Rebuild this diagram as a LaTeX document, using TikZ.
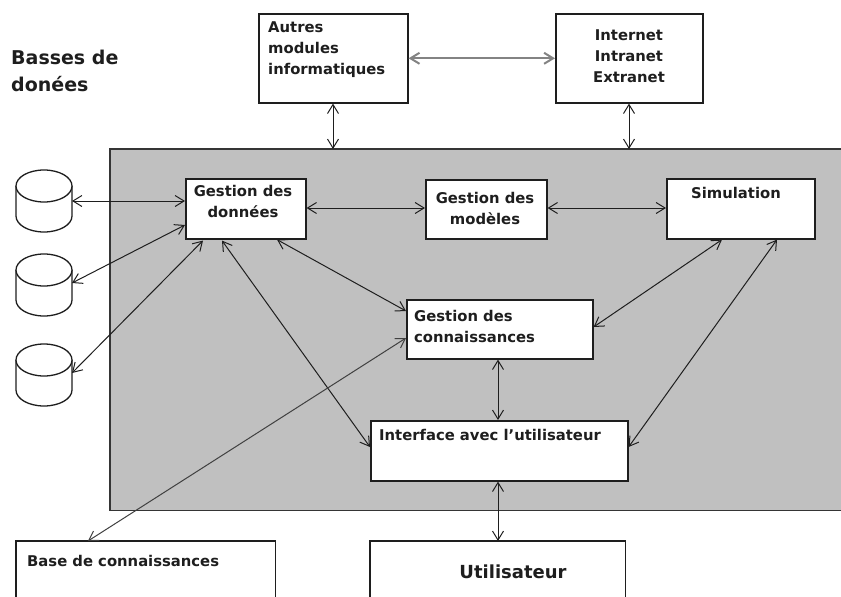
\documentclass[tikz,border=0pt]{standalone}
\usepackage{fontspec}
\setmainfont{DejaVu Sans}
\usetikzlibrary{arrows.meta,calc}
\definecolor{panel}{HTML}{C0C0C0}
\definecolor{ink}{HTML}{1E1E1E}
\tikzset{
  boxn/.style={draw=ink,line width=1.6pt,fill=white,inner sep=0pt,anchor=north west},
  openbox/.style={fill=white,inner sep=0pt,anchor=north west},
  txt/.style={font=\bfseries\fontsize{14.8}{21}\selectfont,text=ink,inner sep=0pt,align=left},
  link/.style={draw=ink,line width=1pt,{Straight Barb[length=9pt,width=11pt]}-{Straight Barb[length=9pt,width=11pt]}},
  db/.style={inner sep=0pt,minimum width=56pt,minimum height=62pt},
  dbline/.style={draw=ink,line width=1.3pt,fill=white}
}
\newcommand{\bx}[6]{\node[#6,minimum width=#4pt,minimum height=#5pt] (#1) at (#2,#3) {};}
\newcommand{\dbshape}[1]{\begin{scope}[shift={(#1.center)}]
\draw[dbline] (-28,-15) -- (-28,15) arc[start angle=180,end angle=0,x radius=28,y radius=16] -- (28,-15);
\draw[dbline] (0,-15) ellipse[x radius=28,y radius=16];
\end{scope}}
\begin{document}
\begin{tikzpicture}[x=1pt,y=-1pt]
\useasboundingbox (0,0) rectangle (841,597);
% main panel
\node[fill=panel,inner sep=0pt,anchor=north west,minimum width=731pt,minimum height=361pt] (panel) at (110,149) {};
\draw[draw=ink!90,line width=1.5pt] (panel.north east) -- (panel.north west) -- (panel.south west) -- (panel.south east);
% boxes
\bx{autres}{258}{13}{149}{89}{boxn}
\bx{inet}{555}{13}{147}{89}{boxn}
\bx{dg}{185}{178}{120}{60}{boxn}
\bx{dm}{425}{179}{121}{59}{boxn}
\bx{sim}{666}{178}{148}{60}{boxn}
\bx{con}{406}{299}{186}{59}{boxn}
\bx{ui}{370}{420}{257}{60}{boxn}
\bx{base}{16}{541}{259}{56}{openbox}
\bx{user}{370}{541}{255}{56}{openbox}
\draw[draw=ink,line width=1.6pt] (base.south west) -- (base.north west) -- (base.north east) -- (base.south east);
\draw[draw=ink,line width=1.6pt] (user.south west) -- (user.north west) -- (user.north east) -- (user.south east);
% cylinders
\node[db] (c1) at (44,201) {};
\node[db] (c2) at (44,285) {};
\node[db] (c3) at (44,375) {};
\dbshape{c1}\dbshape{c2}\dbshape{c3}
% texts
\node[txt,anchor=west,font=\bfseries\fontsize{19}{27}\selectfont] (title) at (11,71) {Basses de\\donées};
\node[txt,anchor=west] (t1) at (268,50) {Autres\\modules\\informatiques};
\node[txt,anchor=center,align=center] (t2) at (629,56) {Internet\\Intranet\\Extranet};
\node[txt,anchor=center,align=center] (t3) at (243,201) {Gestion des\\données};
\node[txt,anchor=center,align=center] (t4) at (485,208) {Gestion des\\modèles};
\node[txt,anchor=center] (t5) at (736,193) {Simulation};
\node[txt,anchor=west] (t6) at (414,326) {Gestion des\\connaissances};
\node[txt,anchor=center] (t7) at (490,435) {Interface avec l'utilisateur};
\node[txt,anchor=west] (t8) at (27,561) {Base de connaissances};
\node[txt,anchor=center,font=\bfseries\fontsize{18}{20}\selectfont] (t9) at (513,572) {Utilisateur};
% connectors
\draw[link,draw=ink!55,line width=2pt] ($(autres.east)$) -- ($(inet.west)$);
\draw[link] ($(autres.south west)+(75,0)$) -- ($(panel.north west)+(223,0)$);
\draw[link] ($(inet.south west)+(74,0)$) -- ($(panel.north west)+(519,0)$);
\draw[link] ($(c1.center)+(28,0)$) -- ($(dg.north west)+(0,23)$);
\draw[link] ($(c2.center)+(28,-2)$) -- ($(dg.north west)+(0,47)$);
\draw[link] ($(c3.center)+(28,-2)$) -- ($(dg.south west)+(18,1)$);
\draw[link] ($(dg.north east)+(0,30)$) -- ($(dm.north west)+(0,29)$);
\draw[link] ($(dm.north east)+(0,29)$) -- ($(sim.north west)+(0,30)$);
\draw[link] ($(dg.south west)+(92,0)$) -- ($(con.north west)+(0,12)$);
\draw[link] ($(dg.south west)+(37,1)$) -- ($(ui.north west)+(0,27)$);
\draw[link] ($(sim.south west)+(56,0)$) -- ($(con.north east)+(0,28)$);
\draw[link] ($(sim.south west)+(111,0)$) -- ($(ui.north east)+(0,27)$);
\draw[link] ($(con.south west)+(92,0)$) -- ($(ui.north west)+(128,0)$);
\draw[link] ($(ui.south west)+(128,0)$) -- ($(user.north west)+(128,0)$);
\draw[link,draw=ink!85] ($(con.north west)+(0,39)$) -- ($(base.north west)+(72,0)$);
\end{tikzpicture}
\end{document}
